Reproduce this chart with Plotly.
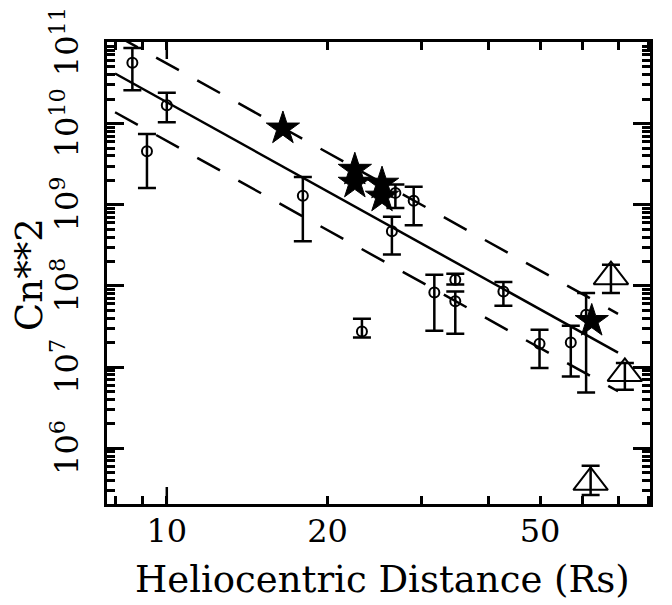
import plotly.graph_objects as go

# ---------------- data ----------------
# open circles with error bars
circ_x  = [8.62, 10.0, 9.18, 17.98, 26.4, 26.8, 29.0, 23.2, 31.7, 34.7, 34.7, 42.7, 49.9, 57.1, 61.0]
circ_y  = [5.62e10, 1.68e10, 4.55e9, 1.29e9, 4.70e8, 1.40e9, 1.12e9, 2.75e7, 8.32e7, 1.19e8, 6.46e7, 8.55e7, 1.94e7, 2.01e7, 4.42e7]
circ_hi = [8.51e10, 2.40e10, 7.46e9, 2.20e9, 7.13e8, 1.77e9, 1.66e9, 3.94e7, 1.37e8, 1.41e8, 8.55e7, 1.12e8, 2.88e7, 3.23e7, 8.17e7]
circ_lo = [2.57e10, 1.04e10, 1.61e9, 3.54e8, 2.43e8, 9.12e8, 5.57e8, 2.31e7, 2.81e7, 1.04e8, 2.57e7, 5.70e7, 9.73e6, 7.66e6, 4.86e6]

# filled stars
star_x = [16.5, 22.5, 22.5, 25.3, 25.3, 62.5]
star_y = [8.7e9, 2.7e9, 1.87e9, 1.82e9, 1.26e9, 3.7e7]

# open triangles with error bars
tri_x  = [67.9, 72.1, 62.2]
tri_y  = [1.30e8, 8.34e6, 3.8e5]
tri_hi = [1.82e8, 1.12e7, 6.07e5]
tri_lo = [8.17e7, 5.25e6, 2.66e5]

# fitted power law (end points) and the +/- band factor
fit_x = [8.0, 70.0]
fit_y = [4.14e10, 1.51e7]
band_factor = 3.0

# axis ticks
x_tickvals = [10, 20, 50]
x_ticktext = ["10", "20", "50"]
x_minor = [8, 9, 30, 40, 60, 70, 80]
y_tickvals = [1e6, 1e7, 1e8, 1e9, 1e10, 1e11]
y_ticktext = ["10<sup>6</sup>", "10<sup>7</sup>", "10<sup>8</sup>",
              "10<sup>9</sup>", "10<sup>10</sup>", "10<sup>11</sup>"]
y_minor = [m * 10**k for k in range(5, 11) for m in range(2, 10)]

x_title = "Heliocentric Distance (Rs)"
y_title = "Cn**2"

FONT = "DejaVu Serif"

fig = go.Figure()

# lines
fig.add_trace(go.Scatter(x=fit_x, y=fit_y, mode="lines",
                         line=dict(color="black", width=2.5), showlegend=False))
fig.add_trace(go.Scatter(x=fit_x, y=[v * band_factor for v in fit_y], mode="lines",
                         line=dict(color="black", width=2.5, dash="26px,21px"),
                         showlegend=False))
fig.add_trace(go.Scatter(x=fit_x, y=[v / band_factor for v in fit_y], mode="lines",
                         line=dict(color="black", width=2.5, dash="26px,21px"),
                         showlegend=False))

# circles
fig.add_trace(go.Scatter(
    x=circ_x, y=circ_y, mode="markers",
    marker=dict(symbol="circle-open", size=10, color="black", line=dict(width=2)),
    error_y=dict(type="data", symmetric=False,
                 array=[h - v for h, v in zip(circ_hi, circ_y)],
                 arrayminus=[v - l for v, l in zip(circ_y, circ_lo)],
                 color="black", thickness=2.5, width=9),
    showlegend=False, cliponaxis=False))

# triangles
fig.add_trace(go.Scatter(
    x=tri_x, y=tri_y, mode="markers",
    marker=dict(symbol="triangle-up-open", size=30, color="black", line=dict(width=2)),
    error_y=dict(type="data", symmetric=False,
                 array=[h - v for h, v in zip(tri_hi, tri_y)],
                 arrayminus=[v - l for v, l in zip(tri_y, tri_lo)],
                 color="black", thickness=2.5, width=9),
    showlegend=False, cliponaxis=False))

# stars
fig.add_trace(go.Scatter(
    x=star_x, y=star_y, mode="markers",
    marker=dict(symbol="star", size=25, color="black", line=dict(width=1, color="black")),
    showlegend=False, cliponaxis=False))

# long decade ticks on the x axis (bottom and top)
L = 17 / 462.0
for v in [10]:
    fig.add_shape(type="line", xref="x", yref="paper", x0=v, x1=v, y0=0, y1=L,
                  line=dict(color="black", width=2.5))
    fig.add_shape(type="line", xref="x", yref="paper", x0=v, x1=v, y0=1 - L, y1=1,
                  line=dict(color="black", width=2.5))

# axis titles
fig.add_annotation(text=x_title, xref="paper", yref="paper",
                   x=0.507, y=-0.1645, xanchor="center", yanchor="middle",
                   showarrow=False, font=dict(family=FONT, size=37, color="black"))
fig.add_annotation(text=y_title, xref="paper", yref="paper",
                   x=-0.1418, y=0.4957, xanchor="center", yanchor="middle",
                   textangle=-90, showarrow=False,
                   font=dict(family=FONT, size=37, color="black"))

# the page body has an 8px margin: the figure is laid out 8px smaller
fig.update_layout(
    width=664, height=597,
    margin=dict(l=99, r=22, t=34, b=101),
    paper_bgcolor="white", plot_bgcolor="white",
    font=dict(family=FONT, color="black", size=32),
)

fig.update_xaxes(
    type="log", range=[0.888, 1.905], automargin=False,
    tickmode="array", tickvals=x_tickvals, ticktext=x_ticktext,
    ticks="inside", ticklen=8, tickwidth=2.5, tickcolor="black",
    minor=dict(tickmode="array", tickvals=x_minor, ticks="inside",
               ticklen=8, tickwidth=2.5, tickcolor="black", showgrid=False),
    showline=True, linewidth=3, linecolor="black", mirror="ticks",
    showgrid=False, zeroline=False, ticklabeloverflow="allow",
    tickfont=dict(family=FONT, size=32), ticklabelstandoff=-3,
)

fig.update_yaxes(
    type="log", range=[5.313, 11.005], automargin=False,
    tickmode="array", tickvals=y_tickvals, ticktext=y_ticktext,
    ticks="inside", ticklen=17, tickwidth=2.5, tickcolor="black",
    minor=dict(tickmode="array", tickvals=y_minor, ticks="inside",
               ticklen=8, tickwidth=2.5, tickcolor="black", showgrid=False),
    showline=True, linewidth=3, linecolor="black", mirror="ticks",
    showgrid=False, zeroline=False, ticklabeloverflow="allow",
    tickangle=-90,
    tickfont=dict(family=FONT, size=32), ticklabelstandoff=13, ticklabelshift=4,
)

fig.write_html("out.html")
